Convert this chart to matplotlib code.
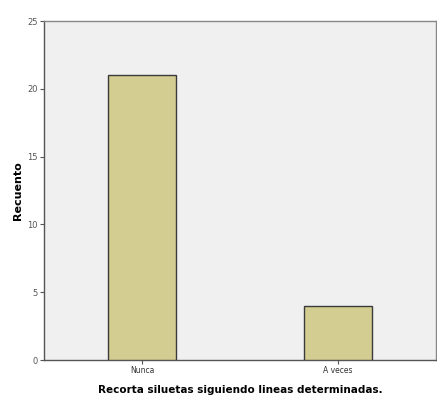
import matplotlib
matplotlib.use("Agg")
import matplotlib.pyplot as plt

categorias = ["Nunca", "A veces"]
recuento = [21, 4]
yticks = [0, 5, 10, 15, 20, 25]

fig = plt.figure(figsize=(4.37, 4.01), dpi=100)
ax = fig.add_axes([0.1007, 0.1022, 0.897, 0.8454])
ax.set_facecolor("#f0f0f0")

x = range(len(categorias))
ax.bar(x, recuento, width=0.35, color="#d3cd92", edgecolor="#3a3a3a", linewidth=1.0, zorder=3)

ax.set_xlim(-0.5, 1.5)
ax.set_ylim(0, 25)
ax.set_xticks(list(x))
ax.set_xticklabels(categorias, fontsize=5.5, color="#333333")
ax.set_yticks(yticks)
ax.set_yticklabels([str(t) for t in yticks], fontsize=6, color="#555555")
ax.tick_params(axis="both", length=3, width=0.8, color="#555555", pad=1.5)

for s in ["left", "bottom"]:
    ax.spines[s].set_color("#555555")
    ax.spines[s].set_linewidth(1.0)
for s in ["top", "right"]:
    ax.spines[s].set_color("#888888")
    ax.spines[s].set_linewidth(1.0)

ax.set_ylabel("Recuento", fontsize=8, fontweight="bold", labelpad=3)
ax.set_xlabel("Recorta siluetas siguiendo lineas determinadas.", fontsize=7.5, fontweight="bold", labelpad=7)

fig.savefig("out.png", dpi=100)
